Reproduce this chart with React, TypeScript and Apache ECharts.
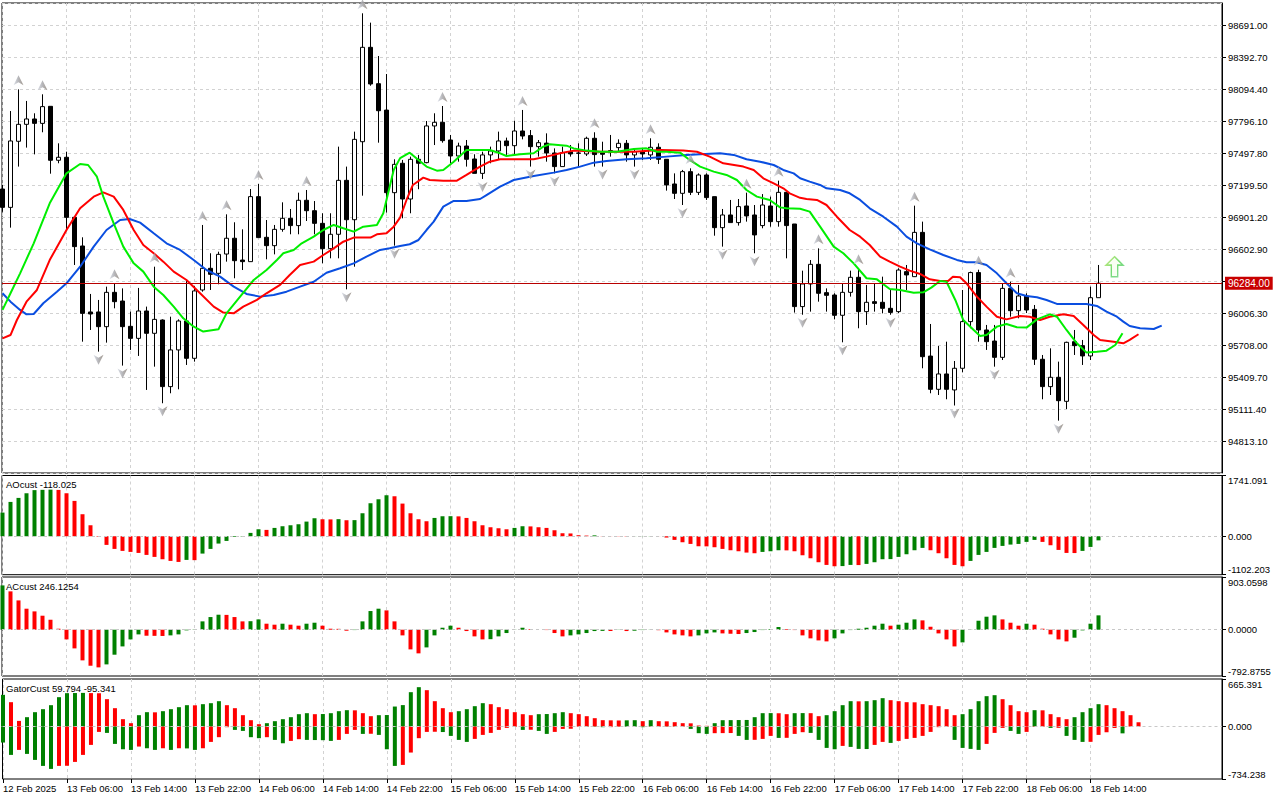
import React, { useEffect, useRef } from "react";
import * as echarts from "echarts";

// ---------- DATA ----------
const opens = [97162,96991,97607,97765,97815,97774,97933,97430,97458,96898,96631,96016,96016,95879,96199,96118,95882,95770,96025,95817,95941,95320,95662,95932,95584,96221,96423,96376,96556,96703,96500,96485,97091,96712,96634,96786,96889,96821,97057,96960,96842,96606,96740,97243,96876,97603,98483,98144,97898,97128,97402,97069,97439,97408,97750,97784,97619,97470,97563,97442,97308,97480,97517,97610,97566,97703,97660,97557,97590,97498,97371,97510,97498,97489,97635,97500,97520,97548,97588,97480,97510,97480,97551,97439,97209,97122,97324,97131,97293,97091,96802,96920,96849,97004,96920,96821,97004,96858,97131,96836,96066,96277,96460,96196,96174,95985,96199,96339,96019,96112,96106,96050,96019,96392,96345,96758,95605,95295,95438,95289,95491,95926,96383,95848,95745,95593,96236,96028,96165,96040,95575,95320,95407,95183,95739,95702,95606,96149];
const highs = [97200,97889,98091,97983,97868,98045,97933,97588,97510,96898,96712,96184,96128,96252,96283,96236,96019,96240,96066,96438,95947,95972,95947,96320,96258,96827,96563,96578,96926,96852,96786,97162,97209,96873,96827,97038,96976,97128,97153,97050,96936,96936,97557,97371,97697,98800,98713,98402,98234,97439,97433,97464,97480,97796,97868,97936,97666,97594,97619,97486,97510,97557,97697,97641,97799,97899,97712,97619,97681,97541,97557,97572,97588,97650,97691,97603,97666,97625,97619,97541,97541,97635,97588,97439,97308,97340,97355,97308,97308,97091,96976,97060,97069,97128,97013,97115,97091,97240,97137,96836,96401,96500,96609,96236,96190,96283,96401,96423,96268,96283,96345,96221,96423,96454,97007,96858,95904,95699,95739,95559,96221,96392,96410,95895,95895,96283,96298,96268,96190,96081,95615,95677,95553,95739,95848,95755,96252,96454];
const lows = [96950,96802,97371,97548,97485,97691,97305,97402,96780,96454,95739,95848,95646,95730,96050,95516,95662,95606,95289,95506,95165,95258,95295,95522,95553,96205,96221,96274,96485,96330,96407,96485,96709,96507,96553,96764,96740,96740,96864,96740,96470,96516,96516,96227,96438,97100,98125,97594,96942,96634,96889,96936,97160,97402,97572,97594,97402,97417,97371,97308,97256,97402,97439,97480,97483,97625,97371,97464,97417,97308,97371,97464,97371,97470,97371,97371,97464,97510,97417,97371,97433,97433,97396,97147,97069,97013,97106,97106,97060,96727,96625,96849,96821,96858,96563,96796,96811,96811,96516,96010,95990,96019,96112,96019,95947,95733,96159,95864,95895,96019,96003,95990,96006,96221,96345,95491,95258,95242,95202,95144,95453,95864,95739,95662,95506,95568,95972,95957,96006,95522,95202,95242,95003,95111,95615,95522,95568,96149];
const closes = [96991,97610,97765,97815,97774,97930,97430,97458,96898,96625,96003,95997,95879,96199,96112,95879,95770,96025,95817,95947,95320,95662,95932,95584,96212,96423,96367,96553,96703,96494,96485,97091,96709,96634,96786,96889,96821,97057,96960,96842,96606,96740,97243,96876,97625,98483,98141,97892,97128,97392,97069,97439,97402,97750,97784,97613,97470,97563,97439,97308,97480,97517,97610,97566,97703,97656,97557,97594,97498,97371,97501,97489,97495,97635,97483,97486,97506,97588,97480,97510,97489,97551,97439,97200,97122,97324,97131,97293,97082,96802,96920,96849,96998,96911,96734,97013,96858,97131,96821,96066,96277,96460,96190,96171,95985,96199,96339,96019,96106,96096,96050,96012,96407,96361,96758,95599,95295,95438,95295,95491,95926,96383,95848,95739,95593,96236,96028,96165,96034,95575,95320,95407,95189,95733,95702,95606,96149,96284];

// Alligator lines: [bar, price]
const lipsLine = [[0,96035],[1,96190],[2.2,96376],[3.9,96656],[5.9,97029],[8,97308],[9.7,97395],[10.7,97386],[11.8,97277],[12.6,97091],[13.9,96842],[15.1,96625],[16.4,96469],[17.6,96392],[18.9,96252],[20.1,96174],[21.4,96066],[22.6,95957],[23.9,95879],[25.1,95833],[27,95855],[28,96003],[29.7,96159],[31.4,96314],[33,96407],[34.3,96501],[35.1,96563],[36.4,96594],[37.4,96656],[38.9,96718],[40.1,96780],[41.4,96827],[42.6,96796],[43.9,96765],[45.1,96811],[46.8,96827],[47.6,96936],[48.2,97122],[48.9,97339],[49.7,97450],[50.9,97501],[52,97433],[53,97371],[54.3,97333],[55.1,97340],[56.4,97417],[58,97526],[60.9,97526],[62.2,97495],[63,97470],[64.7,97486],[66.4,97495],[67.6,97557],[68.4,97579],[70.5,97566],[71.4,97541],[73,97520],[74.7,97510],[76.8,97510],[78.9,97535],[80.5,97541],[81.8,97510],[83,97510],[84.7,97501],[85.9,97433],[87.2,97371],[88.9,97324],[90.5,97293],[91.8,97246],[93,97153],[94.3,97091],[95.9,97060],[97.2,96991],[98,96982],[99.7,96978],[100.9,96951],[102.2,96811],[103.9,96625],[105.1,96563],[106.4,96469],[108,96330],[109.3,96320],[110.9,96230],[112.2,96221],[113.9,96196],[115.1,96199],[116.1,96243],[117.2,96305],[118,96298],[119.1,96128],[120.1,95941],[121.4,95848],[122.2,95792],[123,95802],[124.3,95879],[125.5,95904],[126.8,95873],[128,95870],[129.3,95947],[130.9,95994],[131.8,95972],[133,95848],[134.3,95724],[135.5,95637],[136.8,95646],[138,95655],[139.1,95708],[140,95817]];
const teethLine = [[0,95770],[1,95801],[1.8,95941],[3,96112],[4.3,96221],[5.9,96500],[8,96780],[9.7,96982],[11.4,97091],[12.6,97131],[13.9,97091],[15.1,96967],[16.4,96780],[17.6,96640],[18.9,96563],[20.1,96485],[21.4,96392],[23,96314],[24.7,96190],[26.4,96066],[27.6,96010],[28.9,96003],[30.1,96066],[31.8,96128],[33,96190],[34.7,96268],[35.9,96361],[37.2,96454],[38.9,96485],[40.1,96547],[41.4,96609],[42.6,96671],[43.9,96709],[46,96709],[46.8,96740],[48,96749],[48.9,96811],[49.7,96895],[50.5,97060],[51.3,97200],[52.6,97268],[53.4,97246],[55.1,97240],[56.8,97240],[58,97293],[59.7,97371],[60.9,97417],[62.2,97439],[66.4,97439],[68,97464],[69.7,97495],[71.4,97520],[74.7,97510],[78.9,97510],[82.2,97526],[85.1,97520],[86.8,97510],[88.4,97464],[90.1,97402],[92.6,97371],[93.9,97340],[95.1,97262],[96.4,97215],[97.6,97169],[98.4,97122],[99.7,97080],[100.5,97069],[101.8,97060],[103,97013],[104.3,96904],[105.9,96780],[107.2,96718],[108.4,96640],[109.7,96532],[110.9,96485],[112.2,96438],[113.4,96401],[114.7,96370],[115.9,96320],[117.2,96305],[118.2,96305],[118.8,96345],[119.7,96339],[120.5,96283],[121.8,96159],[123,96066],[124.3,95972],[125.5,95947],[127.2,95979],[128.4,95972],[129.7,95941],[130.9,95972],[132.6,95994],[133.9,95979],[135.1,95895],[136.4,95801],[137.2,95755],[138.9,95739],[140.1,95724],[140.9,95755],[142,95808]];
const jawLine = [[0,96190],[1,96112],[2.2,96035],[3,95994],[3.9,95997],[5.1,96097],[6.8,96205],[8,96283],[9.7,96438],[11.4,96625],[13,96780],[14.7,96873],[15.9,96883],[17.2,96849],[18.9,96749],[20.5,96656],[22.2,96594],[23.9,96501],[25.5,96407],[27.2,96345],[28.9,96252],[30.5,96184],[32.2,96159],[33.9,96174],[35.5,96205],[37.2,96252],[38.9,96298],[40.5,96382],[42.2,96423],[43.9,96469],[45.5,96532],[47.2,96594],[48.4,96609],[49.7,96631],[50.9,96647],[52,96687],[53,96780],[53.9,96858],[55.1,96998],[56.4,97051],[58,97051],[59.7,97069],[60.5,97106],[62.2,97184],[63.9,97246],[66.4,97283],[68.9,97315],[70.5,97340],[72.2,97371],[73.9,97408],[75.5,97423],[78,97439],[80.5,97448],[83,97464],[85.5,97480],[87.2,97486],[89.7,97495],[91.4,97480],[93,97439],[94.7,97417],[96.4,97386],[97.6,97340],[98.9,97308],[99.7,97262],[100.9,97231],[102.2,97200],[103,97169],[104.7,97153],[105.9,97122],[107.2,97060],[108.4,96982],[110.1,96904],[111.8,96811],[113,96718],[114.3,96656],[115.9,96600],[117.6,96547],[119.3,96501],[120.5,96479],[121.8,96479],[123,96454],[124.3,96376],[125.5,96283],[126.8,96190],[128,96165],[129.3,96153],[130.5,96128],[131.8,96091],[133,96091],[135.5,96091],[136.8,96072],[138,96019],[139.3,95972],[140.1,95926],[140.9,95885],[142.2,95864],[143.9,95857],[144.9,95889]];

const fractalUpBars = [2,5,14,19,25,28,32,38,45,55,65,74,81,86,93,97,102,107,114,122,126];
const fractalDownBars = [12,15,20,43,49,60,66,69,75,79,85,90,94,100,105,111,119,124,132];
const signalArrow = [139, 96438];
const currentPrice = 96284;

const aoValues = [678,984,1099,1232,1322,1330,1336,1328,1232,1013,631,315,-15,-248,-363,-420,-449,-478,-535,-592,-659,-707,-736,-678,-685,-497,-363,-210,-134,-19,-10,96,200,182,239,287,315,344,420,516,487,483,490,459,462,659,946,1060,1175,1146,936,659,487,430,525,573,575,570,525,430,315,258,229,200,239,287,282,258,239,172,86,80,29,19,25,5,-3,-5,-8,-3,3,5,-2,-38,-105,-172,-220,-287,-290,-315,-363,-401,-430,-468,-487,-449,-430,-401,-405,-430,-545,-631,-745,-822,-860,-855,-822,-826,-793,-745,-659,-655,-592,-516,-401,-334,-401,-487,-631,-822,-860,-707,-535,-449,-334,-277,-239,-220,-162,-105,-162,-258,-392,-478,-482,-420,-306,-118.025];
const acValues = [759,657,502,360,314,240,171,17,-166,-320,-525,-617,-645,-594,-428,-286,-166,-80,-103,-105,-107,-97,-80,-11,-5,143,217,257,254,217,143,146,177,103,86,103,86,69,103,120,69,17,15,-17,-6,143,320,360,331,143,-97,-337,-405,-303,-97,34,69,34,-23,-114,-166,-162,-114,-57,-3,34,11,0,-6,-57,-114,-97,-80,-57,-23,-20,-22,-3,-23,-17,-6,-3,-8,-46,-80,-97,-114,-97,-63,-46,-63,-69,-74,-57,-40,-6,11,46,11,-6,-97,-148,-183,-200,-148,-63,-6,17,34,69,103,69,86,120,177,160,51,-63,-166,-286,-217,3,154,223,246,177,120,69,103,86,17,-80,-166,-200,-137,-11,103,246.1254];
const gatorUpper = [444,341,79,131,201,243,299,411,467,469,471,468,466,383,257,103,47,159,201,199,215,243,271,299,297,313,327,355,299,257,159,89,33,47,75,103,131,173,187,173,175,187,215,229,227,187,145,159,161,280,300,481,551,509,355,257,201,215,243,285,327,313,271,243,201,173,159,173,175,187,201,187,173,145,117,89,87,85,87,89,75,89,75,73,61,47,45,14,10,47,89,90,91,92,131,187,188,186,173,187,188,187,145,159,215,299,355,353,355,369,397,369,355,341,339,313,299,285,243,159,173,243,355,425,439,383,299,215,201,229,227,173,131,103,131,201,257,313,299,257,215,159,59.794];
const gatorLower = [-224,-397,-327,-383,-467,-551,-593,-551,-549,-495,-397,-257,-75,-89,-243,-318,-327,-280,-304,-327,-304,-327,-304,-306,-327,-304,-215,-149,-9,-47,-61,-149,-163,-149,-187,-234,-201,-177,-187,-189,-191,-201,-187,-103,-47,-103,-101,-117,-318,-551,-537,-364,-163,-75,-73,-77,-131,-187,-215,-173,-117,-89,-47,-19,-5,-47,-45,-61,-103,-75,-33,-31,-2,-3,-3,-9,-8,-3,-3,-3,-9,-3,-2,-2,-2,-2,-33,-93,-103,-93,-92,-91,-131,-187,-186,-173,-131,-159,-158,-103,-79,-89,-187,-299,-318,-271,-285,-313,-315,-257,-215,-229,-201,-173,-159,-131,-75,-9,-5,-187,-299,-313,-327,-243,-89,-19,-61,-103,-75,-5,-4,-19,-18,-131,-187,-215,-214,-117,-80,-20,-95.341];

const timeLabels = ["12 Feb 2025","13 Feb 06:00","13 Feb 14:00","13 Feb 22:00","14 Feb 06:00","14 Feb 14:00","14 Feb 22:00","15 Feb 06:00","15 Feb 14:00","15 Feb 22:00","16 Feb 06:00","16 Feb 14:00","16 Feb 22:00","17 Feb 06:00","17 Feb 14:00","17 Feb 22:00","18 Feb 06:00","18 Feb 14:00"];
const barsPerLabel = 8;
const priceAxis = { min: 94514.8, max: 98896.1, step: 298.3 };
const aoRange = [-1102.203, 1741.091];
const acRange = [-792.8755, 903.0598];
const gatorRange = [-734.238, 665.391];

// ---------- STYLE ----------
const FONT = "'Liberation Sans', Arial, sans-serif";
const FS = 9.5;
const GREEN = "#008000";
const RED = "#ff0000";
const GRID_COLOR = "#d2d2d2";
const X_MIN = -0.0625;
const X_MAX = 152.4375;

function colorByRise(vals: number[], useAbs: boolean) {
  return vals.map((v, i) => {
    if (i === 0) return GREEN;
    const a = useAbs ? Math.abs(v) : v;
    const b = useAbs ? Math.abs(vals[i - 1]) : vals[i - 1];
    return a >= b ? GREEN : RED;
  });
}

function histData(vals: number[], useAbs: boolean) {
  const cols = colorByRise(vals, useAbs);
  return vals.map((v, i) => ({ value: [i, v], itemStyle: { color: cols[i] } }));
}

function zeroLine() {
  return {
    silent: true,
    symbol: ["none", "none"],
    label: { show: false },
    lineStyle: { color: "#c8c8c8", type: [3, 3], width: 1 },
    data: [{ yAxis: 0 }],
  };
}

function fractalFill() {
  return new echarts.graphic.LinearGradient(0, 0, 1, 0, [
    { offset: 0, color: "#d6dbe6" },
    { offset: 0.5, color: "#a4a4a8" },
    { offset: 1, color: "#8a7f74" },
  ]);
}

function buildOption() {
  const gridsPos = [
    { top: 3, height: 470 },
    { top: 475.5, height: 99.2 },
    { top: 577, height: 99 },
    { top: 679, height: 100 },
  ];
  const grid = gridsPos.map((g) => ({
    left: 2,
    right: 58,
    top: g.top,
    height: g.height,
    show: true,
    borderColor: "#000",
    borderWidth: 1,
    backgroundColor: "transparent",
  }));

  const splitStyle = () => ({ color: GRID_COLOR, type: [3, 3], width: 1 });
  const labelBars = timeLabels.map((_, i) => i * barsPerLabel);

  const xAxis = [0, 1, 2, 3].map((k) => ({
    type: "value",
    gridIndex: k,
    position: "bottom",
    min: X_MIN,
    max: X_MAX,
    interval: 4,
    axisLine: { show: false, onZero: false },
    axisTick: {
      show: k === 3,
      length: 4,
      lineStyle: { color: "#000" },
      customValues: labelBars,
    },
    axisLabel:
      k === 3
        ? {
            show: true,
            color: "#000",
            fontSize: FS,
            fontFamily: FONT,
            align: "left",
            margin: 4,
            customValues: labelBars,
            formatter: (v: number) => timeLabels[Math.round(v / barsPerLabel)] ?? "",
          }
        : { show: false },
    splitLine: { show: true, lineStyle: splitStyle() },
  }));

  const indAxis = (k: number, range: number[], dec: number) => ({
    type: "value",
    gridIndex: k,
    position: "right",
    min: range[0],
    max: range[1],
    axisLine: { show: true, onZero: false, lineStyle: { color: "#000" } },
    axisTick: {
      show: true,
      length: 4,
      lineStyle: { color: "#000" },
      customValues: [range[0], 0, range[1]],
    },
    axisLabel: {
      color: "#000",
      fontSize: FS,
      fontFamily: FONT,
      margin: 6,
      customValues: [range[0], 0, range[1]],
      formatter: (v: number) => v.toFixed(dec),
      verticalAlignMinLabel: "bottom",
      verticalAlignMaxLabel: "top",
    },
    splitLine: { show: false },
  });

  const yAxis = [
    {
      type: "value",
      gridIndex: 0,
      position: "right",
      min: priceAxis.min,
      max: priceAxis.max,
      interval: priceAxis.step,
      axisLine: { show: true, onZero: false, lineStyle: { color: "#000" } },
      axisTick: { show: true, length: 4, lineStyle: { color: "#000" } },
      axisLabel: {
        color: "#000",
        fontSize: FS,
        fontFamily: FONT,
        margin: 6,
        showMinLabel: false,
        showMaxLabel: false,
        formatter: (v: number) => v.toFixed(2),
      },
      splitLine: { show: true, lineStyle: splitStyle() },
    },
    indAxis(1, aoRange, 3),
    indAxis(2, acRange, 4),
    indAxis(3, gatorRange, 3),
  ];

  const candleData = opens.map((o, i) => [i, o, closes[i], lows[i], highs[i]]);

  const series: any[] = [
    {
      type: "candlestick",
      xAxisIndex: 0,
      yAxisIndex: 0,
      data: candleData,
      barWidth: 4,
      z: 2,
      itemStyle: {
        color: "#ffffff",
        color0: "#000000",
        borderColor: "#000000",
        borderColor0: "#000000",
        borderWidth: 1,
      },
      markLine: {
        silent: true,
        symbol: ["none", "none"],
        lineStyle: { color: "#b80000", type: "solid", width: 1 },
        label: {
          show: true,
          position: "end",
          distance: 3,
          formatter: () => currentPrice.toFixed(2),
          backgroundColor: "#c80000",
          color: "#ffffff",
          fontSize: 10,
          fontFamily: FONT,
          padding: [2, 3, 1, 3],
        },
        data: [{ yAxis: currentPrice }],
      },
    },
    {
      type: "line",
      name: "jaw",
      xAxisIndex: 0,
      yAxisIndex: 0,
      data: jawLine,
      showSymbol: false,
      symbol: "none",
      z: 4,
      lineStyle: { color: "#0a4ee0", width: 2 },
    },
    {
      type: "line",
      name: "teeth",
      xAxisIndex: 0,
      yAxisIndex: 0,
      data: teethLine,
      showSymbol: false,
      symbol: "none",
      z: 4,
      lineStyle: { color: "#ff0000", width: 2 },
    },
    {
      type: "line",
      name: "lips",
      xAxisIndex: 0,
      yAxisIndex: 0,
      data: lipsLine,
      showSymbol: false,
      symbol: "none",
      z: 4,
      lineStyle: { color: "#00ee00", width: 2 },
    },
    {
      type: "scatter",
      xAxisIndex: 0,
      yAxisIndex: 0,
      data: fractalUpBars.map((i) => [i, highs[i]]),
      symbol: "path://M5,0 L10,10 L5,7 L0,10 Z",
      symbolSize: [10, 10],
      symbolOffset: [0, -9],
      z: 5,
      itemStyle: { color: fractalFill() },
    },
    {
      type: "scatter",
      xAxisIndex: 0,
      yAxisIndex: 0,
      data: fractalDownBars.map((i) => [i, lows[i]]),
      symbol: "path://M0,0 L5,3 L10,0 L5,10 Z",
      symbolSize: [10, 10],
      symbolOffset: [0, 8],
      z: 5,
      itemStyle: { color: fractalFill() },
    },
    {
      type: "scatter",
      xAxisIndex: 0,
      yAxisIndex: 0,
      data: [signalArrow],
      symbol: "path://M8,0 L16,8 L11,8 L11,19 L5,19 L5,8 L0,8 Z",
      symbolSize: [17, 20],
      z: 5,
      itemStyle: {
        color: "#f6fff0",
        borderColor: new echarts.graphic.LinearGradient(0, 0, 1, 1, [
          { offset: 0, color: "#c8e86a" },
          { offset: 0.5, color: "#4fd24f" },
          { offset: 1, color: "#6fd08a" },
        ]),
        borderWidth: 1.5,
      },
    },
    {
      type: "bar",
      xAxisIndex: 1,
      yAxisIndex: 1,
      data: histData(aoValues, false),
      barWidth: 4,
      markLine: zeroLine(),
    },
    {
      type: "bar",
      xAxisIndex: 2,
      yAxisIndex: 2,
      data: histData(acValues, false),
      barWidth: 4,
      markLine: zeroLine(),
    },
    {
      type: "bar",
      xAxisIndex: 3,
      yAxisIndex: 3,
      data: histData(gatorUpper, true),
      barWidth: 4,
      barGap: "-100%",
      markLine: zeroLine(),
    },
    {
      type: "bar",
      xAxisIndex: 3,
      yAxisIndex: 3,
      data: histData(gatorLower, true),
      barWidth: 4,
      barGap: "-100%",
    },
  ];

  const titleStyle = () => ({ fontSize: FS, fontWeight: "normal", color: "#000", fontFamily: FONT });
  const title = [
    { text: `AOcust ${aoValues[aoValues.length - 1].toFixed(3)}`, left: 6, top: 479, padding: 0, textStyle: titleStyle() },
    { text: `ACcust ${acValues[acValues.length - 1].toFixed(4)}`, left: 6, top: 581, padding: 0, textStyle: titleStyle() },
    {
      text: `GatorCust ${gatorUpper[gatorUpper.length - 1].toFixed(3)} ${gatorLower[gatorLower.length - 1].toFixed(3)}`,
      left: 6,
      top: 683,
      padding: 0,
      textStyle: titleStyle(),
    },
  ];

  return {
    animation: false,
    backgroundColor: "#ffffff",
    textStyle: { fontFamily: FONT },
    title,
    grid,
    xAxis,
    yAxis,
    series,
  };
}

export default function App() {
  const ref = useRef<HTMLDivElement>(null);
  useEffect(() => {
    if (!ref.current) return;
    const chart = echarts.init(ref.current, null, { renderer: "svg" });
    chart.setOption(buildOption() as any);
    return () => {
      chart.dispose();
    };
  }, []);
  return (
    <div
      ref={ref}
      style={{ position: "absolute", left: 0, top: 0, width: 1280, height: 800, background: "#fff" }}
    />
  );
}
